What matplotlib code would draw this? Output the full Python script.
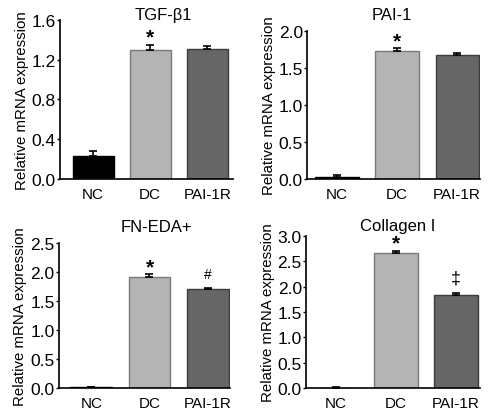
import matplotlib
matplotlib.use("Agg")
import matplotlib.pyplot as plt

plt.rcParams["font.family"] = ["Liberation Sans", "DejaVu Sans"]

GROUPS = ["NC", "DC", "PAI-1R"]
BAR_COLORS = ["#000000", "#b4b4b4", "#666666"]
EDGE_COLORS = ["#000000", "#7a7a7a", "#3c3c3c"]

TGF_MEAN = [0.23, 1.30, 1.31]
TGF_ERR = [0.05, 0.05, 0.03]
TGF_MARK = ["", "*", ""]

PAI_MEAN = [0.03, 1.73, 1.67]
PAI_ERR = [0.03, 0.04, 0.03]
PAI_MARK = ["", "*", ""]

FN_MEAN = [0.01, 1.92, 1.70]
FN_ERR = [0.01, 0.04, 0.03]
FN_MARK = ["", "*", "#"]

COL_MEAN = [0.01, 2.67, 1.84]
COL_ERR = [0.01, 0.04, 0.04]
COL_MARK = ["", "*", "\u2021"]

PANELS = [
    # title, means, errs, marks, yticks, ytick labels, axes rect, xlim, title pos
    ("TGF-\u03b21", TGF_MEAN, TGF_ERR, TGF_MARK, [0, 0.4, 0.8, 1.2, 1.6],
     ["0.0", "0.4", "0.8", "1.2", "1.6"],
     [0.1224, 0.561, 0.353, 0.388], (-0.58, 2.45), (0.333, 0.962)),
    ("PAI-1", PAI_MEAN, PAI_ERR, PAI_MARK, [0, 0.5, 1.0, 1.5, 2.0],
     ["0.0", "0.5", "1.0", "1.5", "2.0"],
     [0.6265, 0.561, 0.353, 0.361], (-0.5, 2.38), (0.80, 0.962)),
    ("FN-EDA+", FN_MEAN, FN_ERR, FN_MARK, [0, 0.5, 1.0, 1.5, 2.0, 2.5],
     ["0.0", "0.5", "1.0", "1.5", "2.0", "2.5"],
     [0.120, 0.0512, 0.350, 0.354], (-0.56, 2.39), (0.32, 0.444)),
    ("Collagen I", COL_MEAN, COL_ERR, COL_MARK, [0, 0.5, 1.0, 1.5, 2.0, 2.5, 3.0],
     ["0.0", "0.5", "1.0", "1.5", "2.0", "2.5", "3.0"],
     [0.6245, 0.0512, 0.355, 0.371], (-0.5, 2.4), (0.812, 0.447)),
]

# text offsets above the error bar, in pixels
MARK_STYLE = {
    "*": dict(fontsize=15, fontweight="bold", offset=2),
    "#": dict(fontsize=10, fontweight="normal", offset=10),
    "\u2021": dict(fontsize=13, fontweight="normal", offset=10),
}


def draw_panel(fig, title, means, errs, marks, yticks, ylabels, rect, xlim, tpos):
    ax = fig.add_axes(rect)
    x = list(range(len(GROUPS)))
    ax.bar(x, means, width=0.72, color=BAR_COLORS, edgecolor=EDGE_COLORS,
           linewidth=1.0, zorder=2)
    ax.errorbar(x, means, yerr=[[0] * len(errs), errs], fmt="none",
                ecolor="black", elinewidth=1.2, capsize=3, capthick=1.2, zorder=3)
    for xi, m, e, mk in zip(x, means, errs, marks):
        if mk:
            st = MARK_STYLE[mk]
            ax.annotate(mk, (xi, m + e), xytext=(0, st["offset"]),
                        textcoords="offset pixels", ha="center", va="baseline",
                        fontsize=st["fontsize"], fontweight=st["fontweight"])
    ax.set_xlim(*xlim)
    ax.set_ylim(0, yticks[-1])
    ax.set_yticks(yticks)
    ax.set_yticklabels(ylabels, fontsize=12.5)
    ax.set_xticks(x)
    ax.set_xticklabels(GROUPS, fontsize=11)
    ax.tick_params(axis="x", length=0, pad=6)
    ax.tick_params(axis="y", length=2, width=1, pad=1)
    ax.set_ylabel("Relative mRNA expression", fontsize=10.8, labelpad=2)
    for s in ["top", "right"]:
        ax.spines[s].set_visible(False)
    ax.spines["left"].set_linewidth(1.2)
    ax.spines["bottom"].set_linewidth(1.2)
    fig.text(tpos[0], tpos[1], title, ha="center", va="center", fontsize=12)
    return ax


def main():
    fig = plt.figure(figsize=(4.9, 4.1), dpi=100)
    for p in PANELS:
        draw_panel(fig, *p)
    fig.savefig("out.png", dpi=100)


if __name__ == "__main__":
    main()
